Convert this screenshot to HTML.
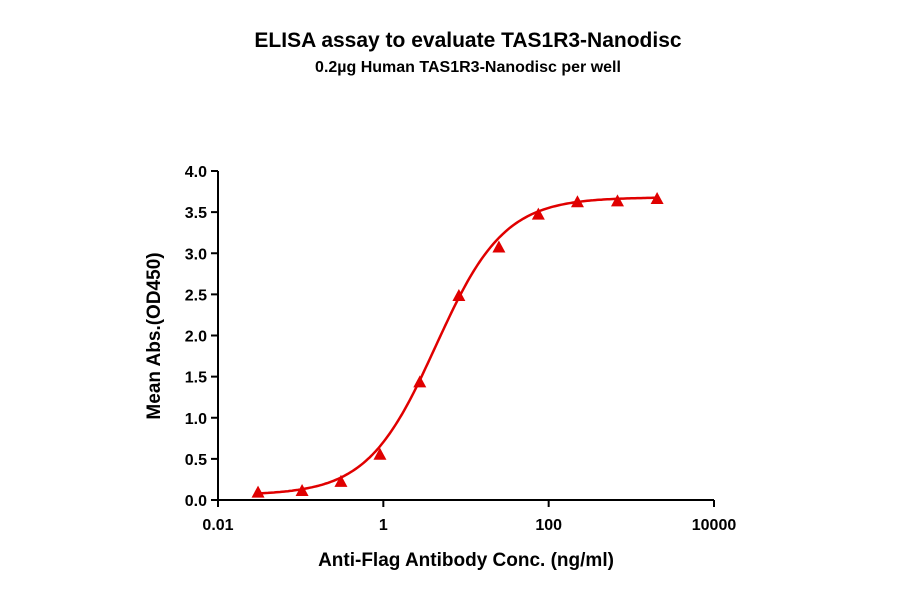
<!DOCTYPE html>
<html><head><meta charset="utf-8"><style>
body{margin:0;background:#fff;}
svg text{font-family:"Liberation Sans",Arial,sans-serif;font-weight:bold;fill:#000;}
</style></head><body>
<svg id="chart" width="900" height="594" viewBox="0 0 900 594" xmlns="http://www.w3.org/2000/svg">
<text x="468" y="47" font-size="21" text-anchor="middle">ELISA assay to evaluate TAS1R3-Nanodisc</text>
<text x="468" y="72" font-size="16" text-anchor="middle">0.2µg Human TAS1R3-Nanodisc per well</text>
<g id="axes"></g>
<g id="marks"></g>
<text x="466" y="566" font-size="19" text-anchor="middle">Anti-Flag Antibody Conc. (ng/ml)</text>
<text x="0" y="0" font-size="19" text-anchor="middle" transform="translate(160,336) rotate(-90)">Mean Abs.(OD450)</text>
</svg>
<script>
const concentrations=[0.0305,0.104,0.307,0.91,2.76,8.2,25,75,223,680,2050];
const absorbance=[0.09,0.11,0.22,0.55,1.43,2.48,3.07,3.47,3.62,3.63,3.66];
const xTickValues=[0.01,1,100,10000];
const xTickLabels=["0.01","1","100","10000"];
const yTickValues=[0,0.5,1,1.5,2,2.5,3,3.5,4];
const yTickLabels=["0.0","0.5","1.0","1.5","2.0","2.5","3.0","3.5","4.0"];
const fitBottom=0.06, fitTop=3.68, fitEC50=4.3, fitHill=1.05;

const X0=218,X1=714,Y0=500,Y1=171;
const xs=v=>X0+(Math.log10(v)+2)/6*(X1-X0);
const ys=v=>Y0-v/4*(Y0-Y1);
const NS="http://www.w3.org/2000/svg";
function mk(tag,attrs,parent){const e=document.createElementNS(NS,tag);for(const k in attrs)e.setAttribute(k,attrs[k]);parent.appendChild(e);return e;}
const axes=document.getElementById('axes'),marks=document.getElementById('marks');
let e=mk('line',{x1:X0,y1:Y0,x2:X1,y2:Y0,stroke:'#000','stroke-width':2},axes);


e=mk('line',{x1:X0,y1:Y0,x2:X0,y2:Y1,stroke:'#000','stroke-width':2},axes);


xTickValues.forEach((v,i)=>{
 const x=xs(v);
 let t=mk('line',{x1:x,y1:Y0,x2:x,y2:Y0+7,stroke:'#000','stroke-width':2},axes);
 
 
 let l=mk('text',{x:x,y:Y0+30,'font-size':16,'text-anchor':'middle'},axes);
 l.textContent=xTickLabels[i];
 
 
});
yTickValues.forEach((v,i)=>{
 const y=ys(v);
 let t=mk('line',{x1:X0-7,y1:y,x2:X0,y2:y,stroke:'#000','stroke-width':2},axes);
 
 
 let l=mk('text',{x:X0-11,y:y+6,'font-size':16,'text-anchor':'end'},axes);
 l.textContent=yTickLabels[i];
 
 
});
let pts=[];
const lmin=Math.log10(concentrations[0]),lmax=Math.log10(concentrations[concentrations.length-1]);
for(let k=0;k<=200;k++){const lx=lmin+(lmax-lmin)*k/200;const c=Math.pow(10,lx);
 const yv=fitBottom+(fitTop-fitBottom)/(1+Math.pow(fitEC50/c,fitHill));
 pts.push(xs(c).toFixed(1)+','+ys(yv).toFixed(1));}
e=mk('polyline',{points:pts.join(' '),fill:'none',stroke:'#e00000','stroke-width':2.5},marks);


concentrations.forEach((c,i)=>{
 const x=xs(c),y=ys(absorbance[i]);
 let p=mk('polygon',{points:`${x},${y-7} ${x-6.5},${y+5} ${x+6.5},${y+5}`,fill:'#e00000'},marks);
 
 
});
</script>
</body></html>
